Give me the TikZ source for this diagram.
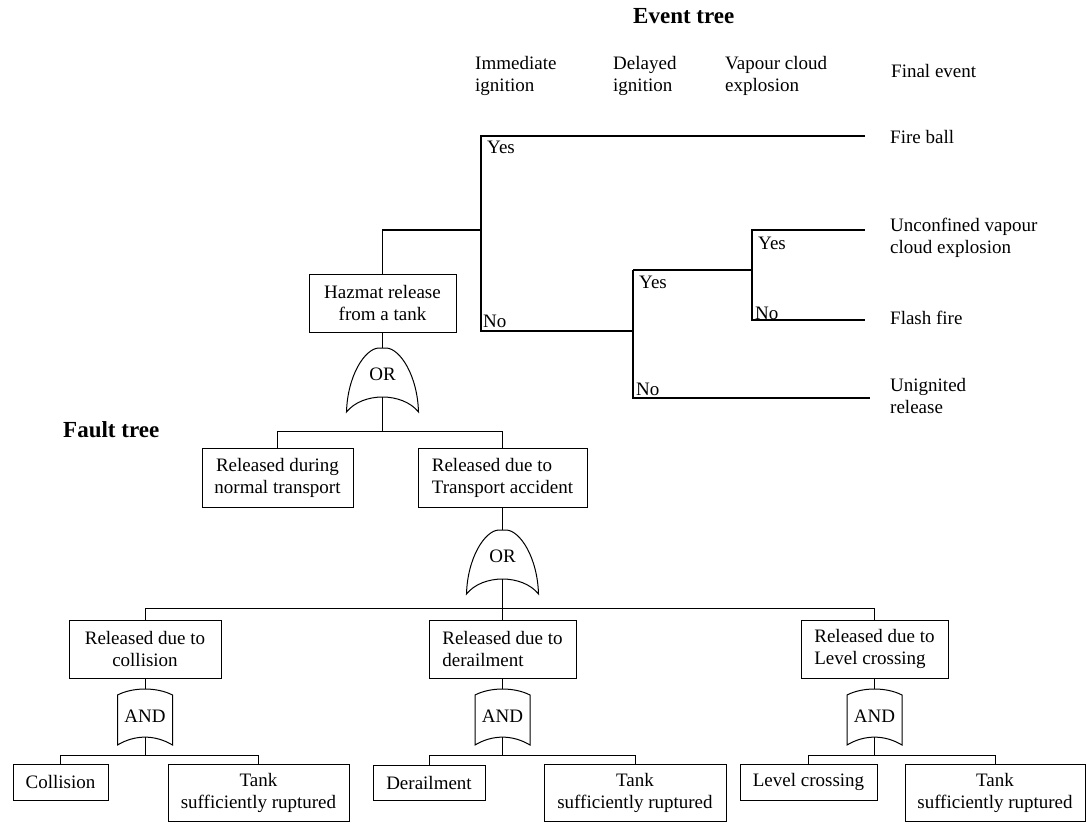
\documentclass[tikz,border=0pt]{standalone}
\usepackage{fontspec}
\setmainfont{Liberation Serif}
\tikzset{
 orgate/.pic={
  \draw[line width=1pt] (-36,64) .. controls (-35,28) and (-18,1) .. (-4,0) -- (4,0) .. controls (18,1) and (35,28) .. (36,64) .. controls (20,44) and (-20,44) .. (-36,64) -- cycle;
  \coordinate (-top) at (0,0);
  \coordinate (-bot) at (0,49);
  \node (-lbl) at (0,26) {OR};
 },
 andgate/.pic={
  \draw[line width=1pt] (-27.5,56) -- (-27.5,6) .. controls (-12,-2) and (12,-2) .. (27.5,6) -- (27.5,56) .. controls (10,45.5) and (-10,45.5) .. (-27.5,56) -- cycle;
  \coordinate (-top) at (0,0);
  \coordinate (-bot) at (0,48);
  \node (-lbl) at (0,27) {AND};
 }
}
\begin{document}
\begin{tikzpicture}[x=1pt,y=-1pt,
  every node/.style={font=\fontsize{19}{22}\selectfont, inner sep=0pt},
  box/.style={draw, line width=1pt, inner sep=2pt, align=center},
  lbox/.style={draw, line width=1pt, inner sep=2pt, align=left},
  lbl/.style={anchor=base west, align=left},
  ttl/.style={anchor=base west, font=\fontsize{23}{26}\selectfont\bfseries},
  ev/.style={line width=1.3pt},
  ft/.style={line width=1pt}]
\useasboundingbox (0,0) rectangle (1087,823);

% titles
\node[ttl] (evtitle) at (633,23) {Event tree};
\node[ttl] (fttitle) at (63,437) {Fault tree};

% column headers (base anchor = last line)
\node[lbl] (h1) at (475,91) {Immediate\\ignition};
\node[lbl] (h2) at (613,91) {Delayed\\ignition};
\node[lbl] (h3) at (725,91) {Vapour cloud\\explosion};
\node[lbl] (h4) at (891,77) {Final event};

% final events
\node[lbl] (f1) at (890,143) {Fire ball};
\node[lbl] (f2) at (890,253) {Unconfined vapour\\cloud explosion};
\node[lbl] (f3) at (890,324) {Flash fire};
\node[lbl] (f4) at (890,413) {Unignited\\release};

% boxes
\node[box, minimum width=147pt, minimum height=58pt] (hazmat) at (382.5,303) {Hazmat release\\from a tank};
\node[box, minimum width=151pt, minimum height=59pt] (normal) at (277.5,477.5) {Released during\\normal transport};
\node[lbox, minimum width=169pt, minimum height=59pt] (transport) at (502.5,477.5) {Released due to\\Transport accident};
\node[box, minimum width=152pt, minimum height=58pt] (collision) at (145,649) {Released due to\\collision};
\node[lbox, minimum width=147pt, minimum height=58pt] (derail) at (502.5,649) {Released due to\\derailment};
\node[lbox, minimum width=147pt, minimum height=58pt] (levelc) at (874.5,649) {Released due to\\Level crossing};
\node[box, minimum width=95pt, minimum height=36pt] (coll) at (60.5,782) {Collision};
\node[box, minimum width=181pt, minimum height=57pt] (tank1) at (258.5,792.5) {Tank\\sufficiently ruptured};
\node[box, minimum width=112pt, minimum height=35pt] (derl) at (429,782.5) {Derailment};
\node[box, minimum width=182pt, minimum height=57pt] (tank2) at (635,792.5) {Tank\\sufficiently ruptured};
\node[box, minimum width=137pt, minimum height=36pt] (lvl) at (808.5,782) {Level crossing};
\node[box, minimum width=180pt, minimum height=57pt] (tank3) at (995,792.5) {Tank\\sufficiently ruptured};

% event tree
\coordinate (a0) at (481,230);
\coordinate (a1) at (481,136);
\coordinate (a2) at (481,331);
\coordinate (e1) at (865,136);
\coordinate (b0) at (633,331);
\coordinate (b1) at (633,270);
\coordinate (b2) at (633,398);
\coordinate (e4) at (870,398);
\coordinate (c0) at (752,270);
\coordinate (c1) at (752,230);
\coordinate (c2) at (752,320);
\coordinate (e2) at (865,230);
\coordinate (e3) at (865,320);
\draw[ev] (hazmat.north) |- (a0);
\draw[ev] (e1) -- (a1) -- (a2) -- (b0);
\draw[ev] (b1) -- (b2) -- (e4);
\draw[ev] (b1) -- (c0);
\draw[ev] (e2) -- (c1) -- (c2) -- (e3);

\node[lbl] (y1) at (487,153) {Yes};
\node[lbl] (n1) at (483,327) {No};
\node[lbl] (y2) at (639,288) {Yes};
\node[lbl] (n2) at (636,395) {No};
\node[lbl] (y3) at (758,249) {Yes};
\node[lbl] (n3) at (755,319) {No};

% gates
\pic (g1) at (382.5,348) {orgate};
\pic (g2) at (502.5,530) {orgate};
\pic (d1) at (145,689) {andgate};
\pic (d2) at (502.5,689) {andgate};
\pic (d3) at (874.5,689) {andgate};

% fault tree connectors
\coordinate (bus1) at (382.5,431);
\coordinate (bus2) at (502.5,608);
\coordinate (bus3) at (145,755);
\coordinate (bus4) at (502.5,755);
\coordinate (bus5) at (874.5,755);
\draw[ft] (hazmat.south) -- (g1-top);
\draw[ft] (g1-bot) -- (bus1);
\draw[ft] (normal.north) |- (bus1) -| (transport.north);
\draw[ft] (transport.south) -- (g2-top);
\draw[ft] (g2-bot) -- (derail.north);
\draw[ft] (collision.north) |- (bus2) -| (levelc.north);
\draw[ft] (collision.south) -- (d1-top);
\draw[ft] (derail.south) -- (d2-top);
\draw[ft] (levelc.south) -- (d3-top);
\draw[ft] (d1-bot) -- (bus3);
\draw[ft] (d2-bot) -- (bus4);
\draw[ft] (d3-bot) -- (bus5);
\draw[ft] (coll.north) |- (bus3) -| (tank1.north);
\draw[ft] (derl.north) |- (bus4) -| (tank2.north);
\draw[ft] (lvl.north) |- (bus5) -| (tank3.north);
\end{tikzpicture}
\end{document}
